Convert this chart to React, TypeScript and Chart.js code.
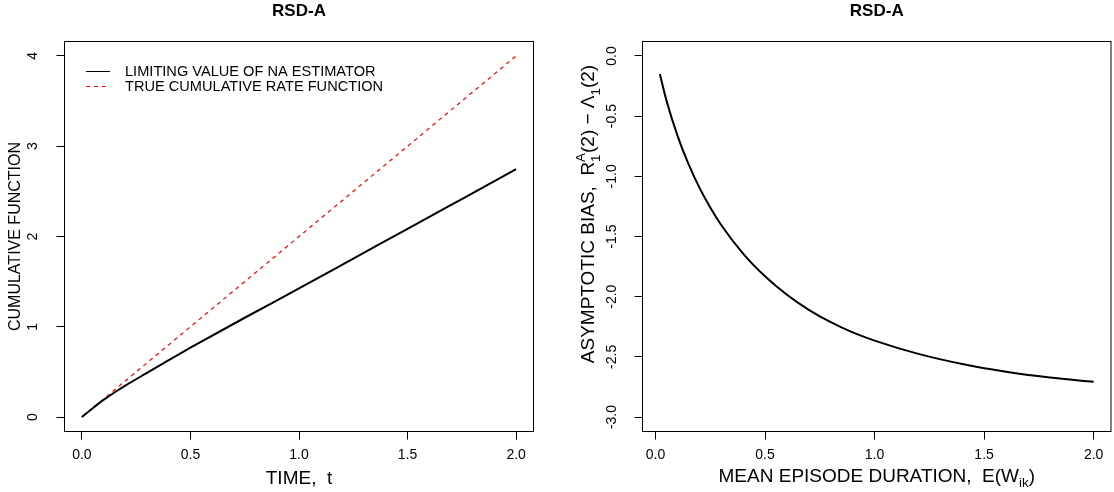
import React, { useEffect, useRef } from "react";
import { Chart, registerables } from "chart.js";

Chart.register(...registerables);

const FONT = "'Liberation Sans', Arial, Helvetica, sans-serif";
Chart.defaults.font.family = FONT;
Chart.defaults.color = "#000";

// ---------- data ----------
const panelTitle = "RSD-A";

const timeTicks = [0, 0.5, 1, 1.5, 2];
const cumulativeTicks = [0, 1, 2, 3, 4];
const durationTicks = [0, 0.5, 1, 1.5, 2];
const biasTicks = [0, -0.5, -1, -1.5, -2, -2.5, -3];

// left panel: limiting value of the NA estimator
const naTime = [0, 0.05, 0.1, 0.15, 0.2, 0.3, 0.4, 0.5, 0.75, 1.0, 1.25, 1.5, 1.75, 2.0];
const naValues = [0, 0.098, 0.19, 0.272, 0.348, 0.49, 0.63, 0.768, 1.1, 1.425, 1.755, 2.085, 2.415, 2.745];

// left panel: true cumulative rate function
const trueTime = [0, 2];
const trueValues = [0, 4];

// right panel: asymptotic bias vs mean episode duration
const meanDuration = [0.02, 0.05, 0.1, 0.15, 0.2, 0.25, 0.3, 0.4, 0.5, 0.6, 0.7, 0.8, 0.9, 1.0, 1.2, 1.4, 1.6, 1.8, 2.0];
const asymptoticBias = [-0.15, -0.369, -0.66, -0.895, -1.092, -1.259, -1.404, -1.642, -1.831, -1.984, -2.109, -2.212, -2.297, -2.365, -2.475, -2.559, -2.623, -2.671, -2.707];

const legendLabels = ["LIMITING VALUE OF NA ESTIMATOR", "TRUE CUMULATIVE RATE FUNCTION"];

// ---------- helpers ----------
const boxPlugin = {
  id: "rbox",
  afterDraw(chart: any) {
    const { ctx, chartArea: a } = chart;
    ctx.save();
    ctx.strokeStyle = "#000";
    ctx.lineWidth = 1;
    ctx.setLineDash([]);
    ctx.strokeRect(a.left, a.top, a.right - a.left, a.bottom - a.top);
    ctx.restore();
  },
};

const legendPlugin = {
  id: "rlegend",
  afterDraw(chart: any) {
    const ctx = chart.ctx;
    const rowsY = [71.5, 86.5];
    ctx.save();
    ctx.font = `14.6px ${FONT}`;
    ctx.fillStyle = "#000";
    ctx.textAlign = "left";
    ctx.textBaseline = "middle";
    chart.data.datasets.forEach((ds: any, i: number) => {
      const y = rowsY[i];
      ctx.beginPath();
      ctx.strokeStyle = ds.borderColor;
      ctx.lineWidth = 1;
      ctx.setLineDash(ds.borderDash || []);
      ctx.moveTo(86, y);
      ctx.lineTo(110, y);
      ctx.stroke();
      ctx.fillText(ds.label, 125, y + 0.5);
    });
    ctx.restore();
  },
};

type Part = { text?: string; sup?: string; sub?: string };

function drawRich(ctx: CanvasRenderingContext2D, parts: Part[], size: number, startX: number, baseY: number) {
  const small = size * 0.7;
  const widthOf = (p: Part) => {
    if (p.text !== undefined) {
      ctx.font = `${size}px ${FONT}`;
      return ctx.measureText(p.text).width;
    }
    ctx.font = `${small}px ${FONT}`;
    return Math.max(p.sup ? ctx.measureText(p.sup).width : 0, p.sub ? ctx.measureText(p.sub).width : 0);
  };
  const total = parts.reduce((s, p) => s + widthOf(p), 0);
  let x = startX - total / 2;
  for (const p of parts) {
    const w = widthOf(p);
    if (p.text !== undefined) {
      ctx.font = `${size}px ${FONT}`;
      ctx.fillText(p.text, x, baseY);
    } else {
      ctx.font = `${small}px ${FONT}`;
      if (p.sup) ctx.fillText(p.sup, x, baseY - size * 0.5);
      if (p.sub) ctx.fillText(p.sub, x, baseY + size * 0.28);
    }
    x += w;
  }
}

const xTitleParts: Part[] = [{ text: "MEAN EPISODE DURATION,  E(W" }, { sub: "ik" }, { text: ")" }];
const yTitleParts: Part[] = [
  { text: "ASYMPTOTIC BIAS,  R" },
  { sup: "A", sub: "1" },
  { text: "(2) \u2212 \u039B" },
  { sub: "1" },
  { text: "(2)" },
];

const richTitlesPlugin = {
  id: "richTitles",
  afterDraw(chart: any) {
    const { ctx, chartArea: a } = chart;
    ctx.save();
    ctx.fillStyle = "#000";
    ctx.textAlign = "left";
    ctx.textBaseline = "alphabetic";
    const size = 19;
    // x title
    drawRich(ctx, xTitleParts, size, (a.left + a.right) / 2, 475 + size * 0.358);
    // y title (rotated)
    ctx.translate(30.5, 214);
    ctx.rotate(-Math.PI / 2);
    drawRich(ctx, yTitleParts, size, 0, size * 0.358);
    ctx.restore();
  },
};

function tickMarks() {
  return { drawOnChartArea: false, drawTicks: true, tickLength: 8, color: "#000", lineWidth: 1 };
}

function titleOpts() {
  return {
    display: true,
    text: panelTitle,
    fullSize: false,
    color: "#000",
    font: { size: 17, weight: "bold" as const, family: FONT },
    padding: { top: 1, bottom: 20.1 },
  };
}

function leftConfig(): any {
  return {
    type: "line",
    data: {
      datasets: [
        {
          label: legendLabels[0],
          data: naTime.map((t, i) => ({ x: t, y: naValues[i] })),
          borderColor: "#000000",
          borderWidth: 2,
          pointRadius: 0,
          cubicInterpolationMode: "monotone",
          fill: false,
        },
        {
          label: legendLabels[1],
          data: trueTime.map((t, i) => ({ x: t, y: trueValues[i] })),
          borderColor: "#ff0000",
          borderWidth: 1.2,
          borderDash: [4, 4],
          pointRadius: 0,
          fill: false,
        },
      ],
    },
    options: {
      animation: false,
      responsive: false,
      events: [],
      layout: { padding: { left: 0, right: 23.5, top: 0, bottom: 0 } },
      plugins: { legend: { display: false }, tooltip: { enabled: false }, title: titleOpts() },
      scales: {
        x: {
          type: "linear",
          min: -0.08,
          max: 2.08,
          afterBuildTicks: (s: any) => {
            s.ticks = timeTicks.map((v) => ({ value: v }));
          },
          afterFit: (s: any) => {
            s.height = 60.5;
          },
          ticks: { callback: (v: any) => Number(v).toFixed(1), font: { size: 14 }, color: "#000", padding: 7.6, maxRotation: 0, autoSkip: false },
          grid: tickMarks(),
          border: { display: false },
          title: { display: true, text: "TIME,  t", color: "#000", font: { size: 19 }, padding: { top: 0, bottom: 2.3 } },
        },
        y: {
          type: "linear",
          min: -0.16,
          max: 4.16,
          afterBuildTicks: (s: any) => {
            s.ticks = cumulativeTicks.map((v) => ({ value: v }));
          },
          afterFit: (s: any) => {
            s.width = 64.5;
          },
          ticks: { callback: (v: any) => String(v), font: { size: 14 }, color: "#000", minRotation: 90, maxRotation: 90, crossAlign: "center", padding: 19.6, autoSkip: false },
          grid: tickMarks(),
          border: { display: false },
          title: { display: true, text: "CUMULATIVE FUNCTION", color: "#000", font: { size: 16 }, padding: { top: 6.4, bottom: 0 } },
        },
      },
    },
    plugins: [boxPlugin, legendPlugin],
  };
}

function rightConfig(): any {
  return {
    type: "line",
    data: {
      datasets: [
        {
          label: "ASYMPTOTIC BIAS",
          data: meanDuration.map((d, i) => ({ x: d, y: asymptoticBias[i] })),
          borderColor: "#000000",
          borderWidth: 2,
          pointRadius: 0,
          cubicInterpolationMode: "monotone",
          fill: false,
        },
      ],
    },
    options: {
      animation: false,
      responsive: false,
      events: [],
      layout: { padding: { left: 0, right: 3, top: 0, bottom: 0 } },
      plugins: { legend: { display: false }, tooltip: { enabled: false }, title: titleOpts() },
      scales: {
        x: {
          type: "linear",
          min: -0.0592,
          max: 2.0792,
          afterBuildTicks: (s: any) => {
            s.ticks = durationTicks.map((v) => ({ value: v }));
          },
          afterFit: (s: any) => {
            s.height = 60.5;
          },
          ticks: { callback: (v: any) => Number(v).toFixed(1), font: { size: 14 }, color: "#000", padding: 7.6, maxRotation: 0, autoSkip: false },
          grid: tickMarks(),
          border: { display: false },
        },
        y: {
          type: "linear",
          min: -3.12,
          max: 0.12,
          afterBuildTicks: (s: any) => {
            s.ticks = biasTicks.map((v) => ({ value: v }));
          },
          afterFit: (s: any) => {
            s.width = 85.5;
          },
          ticks: { callback: (v: any) => Number(v).toFixed(1), font: { size: 14 }, color: "#000", minRotation: 90, maxRotation: 90, crossAlign: "center", padding: 10.4, autoSkip: false },
          grid: tickMarks(),
          border: { display: false },
        },
      },
    },
    plugins: [boxPlugin, richTitlesPlugin],
  };
}

function Panel({ make, left }: { make: () => any; left: number }) {
  const ref = useRef<HTMLCanvasElement>(null);
  useEffect(() => {
    const chart = new Chart(ref.current as HTMLCanvasElement, make());
    return () => chart.destroy();
  }, []);
  return (
    <canvas
      ref={ref}
      width={557}
      height={492}
      style={{ position: "absolute", left: `${left}px`, top: "0px", width: "557px", height: "492px" }}
    />
  );
}

export default function App() {
  return (
    <div style={{ position: "absolute", left: 0, top: 0, width: "1114px", height: "492px", background: "#fff", overflow: "hidden" }}>
      <Panel make={leftConfig} left={0} />
      <Panel make={rightConfig} left={557} />
    </div>
  );
}
